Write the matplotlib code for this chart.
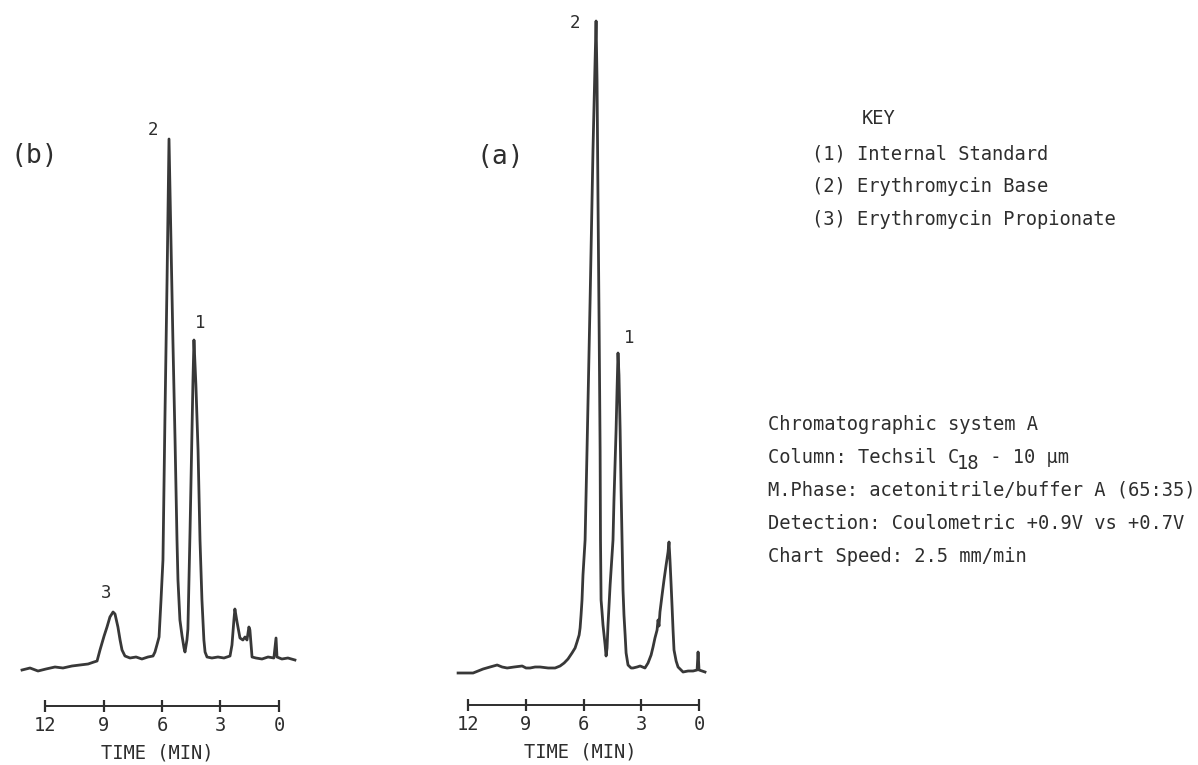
import matplotlib
matplotlib.use('Agg')
from matplotlib import pyplot as plt

# chromatogram (b): retention time (min) and detector response
time_b = [13.18, 12.77, 12.36, 11.95, 11.49, 11.08, 10.62, 10.21, 9.79, 9.49, 9.33,
          9.18, 8.97, 8.82, 8.67, 8.51, 8.41, 8.26, 8.15, 8.05, 7.90,
          7.64, 7.33, 7.03, 6.72, 6.46,
          6.36, 6.26, 6.15, 6.05, 5.95, 5.85, 5.74, 5.64,
          5.54, 5.44, 5.33, 5.23, 5.18, 5.08, 4.97, 4.87, 4.82,
          4.72, 4.67, 4.56, 4.46, 4.41, 4.36,
          4.26, 4.15, 4.05, 3.95, 3.85, 3.79, 3.69,
          3.44, 3.13, 2.82, 2.51,
          2.41, 2.31, 2.26, 2.15, 2.00, 1.85, 1.74, 1.64, 1.54, 1.49, 1.38,
          1.18, 0.87, 0.56, 0.26, 0.15, 0.10, -0.15, -0.46, -0.82]
resp_b = [-10, -8, -11, -9, -7, -8, -6, -5, -4, -2, -1,
          10, 24, 33, 43, 48, 46, 33, 20, 10, 4,
          2, 3, 1, 3, 4,
          8, 15, 23, 60, 100, 240, 380, 521,
          420, 320, 220, 120, 80, 40, 24, 12, 8,
          20, 31, 130, 230, 280, 320,
          275, 210, 120, 60, 20, 8, 3,
          2, 3, 2, 4,
          15, 40, 51, 38, 22, 20, 23, 20, 33, 30, 3,
          2, 1, 3, 2, 22, 3, 1, 2, 0]

# chromatogram (a)
time_a = [12.52, 12.16, 11.74, 11.48, 11.22, 10.86, 10.49, 10.23, 9.97, 9.61, 9.19,
          8.99, 8.78, 8.52, 8.26, 7.84, 7.48, 7.22, 7.01, 6.81, 6.60, 6.44, 6.34,
          6.23, 6.18, 6.13, 6.08, 6.03, 5.92, 5.82, 5.66, 5.51, 5.40, 5.35,
          5.30, 5.25, 5.19, 5.14, 5.12, 5.09, 5.04, 4.99, 4.88, 4.83,
          4.78, 4.73, 4.62, 4.52, 4.47, 4.42, 4.31, 4.26, 4.21,
          4.16, 4.10, 4.05, 4.00, 3.95, 3.90, 3.84, 3.79, 3.69, 3.53,
          3.43, 3.22, 3.06, 2.81, 2.65, 2.49, 2.39, 2.29, 2.18, 2.13, 2.08, 2.03,
          1.92, 1.82, 1.71, 1.61, 1.56,
          1.51, 1.45, 1.40, 1.35, 1.30, 1.19, 1.09, 0.83, 0.57, 0.31, 0.10, 0.05,
          0.00, -0.16, -0.31]
resp_a = [-5, -5, -5, -3, -1, 1, 3, 1, 0, 1, 2,
          0, 0, 1, 1, 0, 0, 2, 5, 9, 15, 20, 26,
          33, 40, 53, 68, 93, 128, 218, 368, 518, 608, 647,
          588, 468, 338, 218, 128, 68, 56, 43, 23, 12,
          20, 43, 83, 113, 128, 168, 238, 278, 315,
          293, 238, 178, 128, 78, 53, 33, 15, 3, 0,
          0, 1, 2, 0, 5, 13, 21, 30, 38, 48, 42, 56,
          73, 88, 103, 116, 126,
          108, 83, 61, 38, 18, 7, 1, -4, -3, -3, -2, 16,
          -2, -3, -4]

time_ticks = [12, 9, 6, 3, 0]
tick_labels = ['12', '9', '6', '3', '0']

key_title = 'KEY'
key_lines = ['(1) Internal Standard',
             '(2) Erythromycin Base',
             '(3) Erythromycin Propionate']
system_title = 'Chromatographic system A'
column_parts = ['Column: Techsil C', '18', ' - 10 μm']
system_lines = ['M.Phase: acetonitrile/buffer A (65:35)',
                'Detection: Coulometric +0.9V vs +0.7V',
                'Chart Speed: 2.5 mm/min']

plt.rcParams['font.family'] = ['DejaVu Sans Mono', 'DejaVu Sans']

INK = '#2e2e2e'
TRACE = '#383838'
FS = 13.5
W, H = 1198, 765
CHAR_W = FS * 0.602 * 100 / 72  # advance of one monospace character, px

fig = plt.figure(figsize=(W / 100, H / 100), dpi=100)
fig.patch.set_facecolor('white')


def box_axes(left, top, right, bottom):
    return fig.add_axes([left / W, 1 - bottom / H, (right - left) / W, (bottom - top) / H])


def put(x, y, s, **kw):
    kw.setdefault('fontsize', FS)
    kw.setdefault('color', INK)
    kw.setdefault('ha', 'left')
    kw.setdefault('va', 'baseline')
    return fig.text(x / W, 1 - y / H, s, **kw)


def style_time_axis(ax, spine_at):
    for side in ('top', 'right', 'left'):
        ax.spines[side].set_visible(False)
    ax.spines['bottom'].set_position(('data', spine_at))
    ax.spines['bottom'].set_bounds(12, 0)
    ax.spines['bottom'].set_linewidth(1.4)
    ax.spines['bottom'].set_color(INK)
    ax.set_yticks([])
    ax.set_xticks(time_ticks)
    ax.set_xticklabels(tick_labels)
    ax.tick_params(axis='x', direction='inout', length=9, width=1.6,
                   color=INK, labelcolor=INK, labelsize=FS, pad=3)
    ax.set_xlabel('TIME (MIN)', fontsize=FS, color=INK, labelpad=6)
    ax.patch.set_visible(False)


# panel (b)
ax_b = box_axes(15, 100, 300, 712)
ax_b.plot(time_b, resp_b, color=TRACE, lw=2.0, solid_joinstyle='round')
ax_b.set_xlim(13.54, -1.08)
ax_b.set_ylim(-52, 560)
style_time_axis(ax_b, -46)
ax_b.text(6.46, 530, '2', ha='center', va='center', fontsize=12.5, color=INK)
ax_b.text(4.05, 337, '1', ha='center', va='center', fontsize=12.5, color=INK)
ax_b.text(8.87, 67, '3', ha='center', va='center', fontsize=12.5, color=INK)

# panel (a)
ax_a = box_axes(450, 5, 710, 712)
ax_a.plot(time_a, resp_a, color=TRACE, lw=2.0, solid_joinstyle='round')
ax_a.set_xlim(12.94, -0.57)
ax_a.set_ylim(-44, 663)
style_time_axis(ax_a, -37)
ax_a.text(6.44, 645, '2', ha='center', va='center', fontsize=12.5, color=INK)
ax_a.text(3.64, 330, '1', ha='center', va='center', fontsize=12.5, color=INK)

put(10, 156, '(b)', va='center', fontsize=19)
put(476, 157, '(a)', va='center', fontsize=19)

# key
put(862, 124, key_title)
for i, line in enumerate(key_lines):
    put(812, 159 + 33 * i, line)

# operating conditions, with the C18 subscript set lower
put(768, 430, system_title)
x = 768
put(x, 463, column_parts[0])
x += CHAR_W * len(column_parts[0]) - 3
put(x, 469, column_parts[1])
x += CHAR_W * len(column_parts[1])
put(x, 463, column_parts[2])
for i, line in enumerate(system_lines):
    put(768, 496 + 33 * i, line)

fig.savefig('out.png', dpi=100, facecolor='white')
